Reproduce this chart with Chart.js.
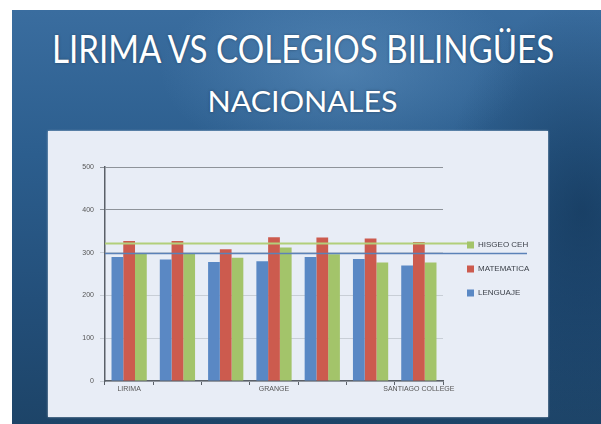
<!DOCTYPE html>
<html>
<head>
<meta charset="utf-8">
<script src="https://cdn.jsdelivr.net/npm/chart.js@4"></script>
<style>
  html, body { margin: 0; padding: 0; }
  body { width: 601px; height: 424px; background: #fff; position: relative; overflow: hidden; }
  .slide {
    position: absolute; left: 12px; top: 10px; width: 589px; height: 414px;
    background:
      radial-gradient(ellipse 260px 140px at 330px 60px, rgba(120,170,215,0.35), rgba(120,170,215,0) 70%),
      radial-gradient(ellipse 200px 300px at 570px 200px, rgba(10,40,70,0.5), rgba(10,40,70,0) 70%),
      linear-gradient(180deg, #3a6d9f 0%, #2c5e8e 35%, #234f7a 70%, #1d4468 100%);
  }
  .title {
    position: absolute; left: 3px; width: 600px; text-align: center; color: #fff;
    font-family: Lato, "Open Sans", sans-serif; white-space: nowrap;
    text-shadow: 0 0 3px rgba(0,0,0,0.35);
  }
  .title span { display: inline-block; transform-origin: center; }
  #t1 { top: 29px; font-size: 38px; line-height: 38px; }
  #t2 { top: 86px; font-size: 29px; line-height: 29px; }
  .panel {
    position: absolute; left: 48px; top: 131px; width: 500px; height: 286px;
    background: #e8edf6; box-shadow: 0 0 2px rgba(255,255,255,0.6);
  }
  canvas { display: block; }
</style>
</head>
<body>
<div class="slide"></div>
<div class="title" id="t1"><span>LIRIMA VS COLEGIOS BILINGÜES</span></div>
<div class="title" id="t2"><span>NACIONALES</span></div>
<div class="panel"><canvas id="chart" width="500" height="286"></canvas></div>
<script>
// schools (only three names are legible in the source)
const categories = ['LIRIMA', '', '', 'GRANGE', '', '', 'SANTIAGO COLLEGE']
const lenguaje = [290, 284, 278, 280, 290, 285, 270]
const matematica = [327, 327, 308, 336, 335, 333, 325]
const hisgeo = [297, 298, 288, 312, 296, 277, 277]
const yTicks = [0, 100, 200, 300, 400, 500]
// horizontal reference lines seen across the plot
const refHisgeo = 323
const refLenguaje = 300

const BLUE = '#5a88c4'
const RED = '#cc5b4e'
const GREEN = '#a3c46a'

// squeeze title lines to the width seen in the picture
const fit = (id, w) => {
  const s = document.querySelector('#' + id + ' span')
  s.style.transform = 'scaleX(' + (w / s.offsetWidth) + ')'
}
fit('t1', 502)
fit('t2', 190)

const refLines = {
  id: 'refLines',
  afterDatasetsDraw(chart) {
    const { ctx, scales: { y }, chartArea } = chart
    const draw = (v, x2, color, w) => {
      const py = Math.round(y.getPixelForValue(v)) + 0.5
      ctx.save()
      ctx.strokeStyle = color
      ctx.lineWidth = w
      ctx.beginPath()
      ctx.moveTo(chartArea.left, py)
      ctx.lineTo(x2, py)
      ctx.stroke()
      ctx.restore()
    }
    draw(refLenguaje, chartArea.right + 84, '#5b82b8', 1.5)
    draw(refHisgeo, chartArea.right + 24, '#b2cf7a', 2)
  }
}

// legend drawn by hand, reversed order like the original
const sideLegend = {
  id: 'sideLegend',
  afterDraw(chart) {
    const { ctx, chartArea } = chart
    const items = chart.data.datasets.slice().reverse()
    ctx.save()
    ctx.font = '8px "Liberation Sans", Arial, sans-serif'
    ctx.textBaseline = 'middle'
    items.forEach((ds, i) => {
      const x = chartArea.right + 24
      const yy = chartArea.top + 78 + i * 24
      ctx.fillStyle = ds.backgroundColor
      ctx.fillRect(x, yy - 3.5, 7, 7)
      ctx.fillStyle = '#3a3f47'
      ctx.fillText(ds.label, x + 11, yy)
    })
    ctx.restore()
  }
}

new Chart(document.getElementById('chart').getContext('2d'), {
  type: 'bar',
  data: {
    labels: categories,
    datasets: [
      { label: 'LENGUAJE', data: lenguaje, backgroundColor: BLUE },
      { label: 'MATEMATICA', data: matematica, backgroundColor: RED },
      { label: 'HISGEO CEH', data: hisgeo, backgroundColor: GREEN }
    ]
  },
  options: {
    responsive: false,
    animation: false,
    layout: { padding: { top: 36, right: 105, left: 0, bottom: 0 } },
    plugins: { legend: { display: false }, tooltip: { enabled: false } },
    datasets: { bar: { categoryPercentage: 0.73, barPercentage: 1 } },
    scales: {
      x: {
        afterFit: (s) => { s.height = 36 },
        border: { color: '#5a6068', width: 1.5 },
        grid: { drawOnChartArea: false, drawTicks: true, tickLength: 4, color: '#5a6068' },
        ticks: {
          autoSkip: false, maxRotation: 0, padding: 0,
          color: '#555', font: { size: 7, family: '"Liberation Sans", Arial' }
        }
      },
      y: {
        min: 0,
        max: 500,
        afterFit: (s) => { s.width = 57 },
        afterBuildTicks: (s) => { s.ticks = yTicks.map(v => ({ value: v })) },
        border: { color: '#5a6068', width: 1.5 },
        grid: {
          tickLength: 5,
          color: (c) => c.tick && c.tick.value >= 400 ? '#8e939a' : '#c8ced6',
          lineWidth: 1
        },
        ticks: { padding: 6, color: '#555', font: { size: 7, family: '"Liberation Sans", Arial' } }
      }
    }
  },
  plugins: [refLines, sideLegend]
})
</script>
</body>
</html>
